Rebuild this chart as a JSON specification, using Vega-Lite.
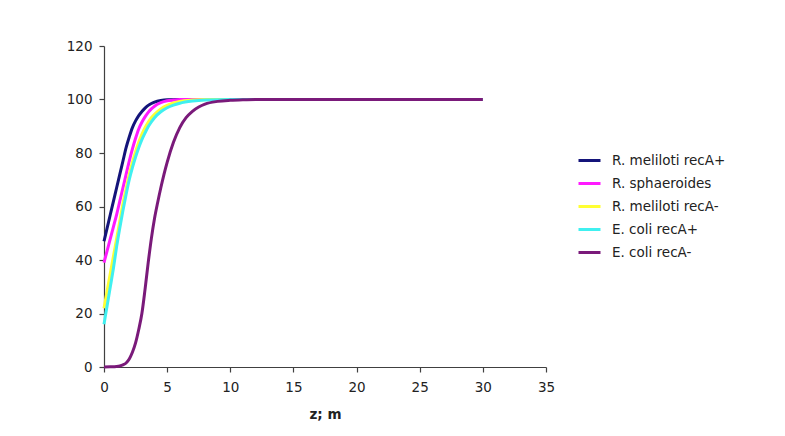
{
  "$schema": "https://vega.github.io/schema/vega-lite/v6.json",
  "width": 442,
  "height": 321,
  "autosize": {"type": "none"},
  "padding": {"left": 104, "top": 46, "right": 239, "bottom": 69},
  "background": "white",
  "config": {
    "font": "DejaVu Sans",
    "view": {"stroke": null},
    "axis": {"grid": false, "domainColor": "#404040", "tickColor": "#404040", "labelColor": "#222", "labelFont": "DejaVu Sans", "labelFontSize": 13.5, "tickSize": 5, "domainWidth": 1.2, "tickWidth": 1.2, "labelFlush": false}
  },
  "data": {"values": [
    {"s":"R. meliloti recA+","z":0,"v":47},{"s":"R. meliloti recA+","z":0.25,"v":52},{"s":"R. meliloti recA+","z":0.5,"v":57},{"s":"R. meliloti recA+","z":0.75,"v":62},{"s":"R. meliloti recA+","z":1,"v":67},{"s":"R. meliloti recA+","z":1.25,"v":72},{"s":"R. meliloti recA+","z":1.5,"v":77},{"s":"R. meliloti recA+","z":1.75,"v":82},{"s":"R. meliloti recA+","z":2,"v":86},{"s":"R. meliloti recA+","z":2.25,"v":89.5},{"s":"R. meliloti recA+","z":2.5,"v":92},{"s":"R. meliloti recA+","z":2.75,"v":94},{"s":"R. meliloti recA+","z":3,"v":95.5},{"s":"R. meliloti recA+","z":3.25,"v":96.8},{"s":"R. meliloti recA+","z":3.5,"v":97.8},{"s":"R. meliloti recA+","z":3.75,"v":98.5},{"s":"R. meliloti recA+","z":4,"v":99},{"s":"R. meliloti recA+","z":4.5,"v":99.6},{"s":"R. meliloti recA+","z":5,"v":99.9},{"s":"R. meliloti recA+","z":6,"v":100},{"s":"R. meliloti recA+","z":10,"v":100},{"s":"R. meliloti recA+","z":15,"v":100},{"s":"R. meliloti recA+","z":20,"v":100},{"s":"R. meliloti recA+","z":25,"v":100},{"s":"R. meliloti recA+","z":30,"v":100},
    {"s":"R. sphaeroides","z":0,"v":39},{"s":"R. sphaeroides","z":0.25,"v":43.5},{"s":"R. sphaeroides","z":0.5,"v":48},{"s":"R. sphaeroides","z":0.75,"v":52.5},{"s":"R. sphaeroides","z":1,"v":57},{"s":"R. sphaeroides","z":1.25,"v":62},{"s":"R. sphaeroides","z":1.5,"v":67},{"s":"R. sphaeroides","z":1.75,"v":72},{"s":"R. sphaeroides","z":2,"v":77},{"s":"R. sphaeroides","z":2.25,"v":81.5},{"s":"R. sphaeroides","z":2.5,"v":85.5},{"s":"R. sphaeroides","z":2.75,"v":89},{"s":"R. sphaeroides","z":3,"v":91.5},{"s":"R. sphaeroides","z":3.25,"v":93.5},{"s":"R. sphaeroides","z":3.5,"v":95.2},{"s":"R. sphaeroides","z":3.75,"v":96.5},{"s":"R. sphaeroides","z":4,"v":97.5},{"s":"R. sphaeroides","z":4.5,"v":98.8},{"s":"R. sphaeroides","z":5,"v":99.5},{"s":"R. sphaeroides","z":5.5,"v":99.8},{"s":"R. sphaeroides","z":6,"v":100},{"s":"R. sphaeroides","z":10,"v":100},{"s":"R. sphaeroides","z":15,"v":100},{"s":"R. sphaeroides","z":20,"v":100},{"s":"R. sphaeroides","z":25,"v":100},{"s":"R. sphaeroides","z":30,"v":100},
    {"s":"R. meliloti recA-","z":0,"v":22},{"s":"R. meliloti recA-","z":0.25,"v":28.5},{"s":"R. meliloti recA-","z":0.5,"v":35},{"s":"R. meliloti recA-","z":0.75,"v":41.5},{"s":"R. meliloti recA-","z":1,"v":48},{"s":"R. meliloti recA-","z":1.25,"v":54.5},{"s":"R. meliloti recA-","z":1.5,"v":61},{"s":"R. meliloti recA-","z":1.75,"v":66.5},{"s":"R. meliloti recA-","z":2,"v":72},{"s":"R. meliloti recA-","z":2.25,"v":76.5},{"s":"R. meliloti recA-","z":2.5,"v":80.5},{"s":"R. meliloti recA-","z":2.75,"v":84},{"s":"R. meliloti recA-","z":3,"v":87},{"s":"R. meliloti recA-","z":3.25,"v":89.5},{"s":"R. meliloti recA-","z":3.5,"v":91.5},{"s":"R. meliloti recA-","z":3.75,"v":93.2},{"s":"R. meliloti recA-","z":4,"v":94.5},{"s":"R. meliloti recA-","z":4.5,"v":96.5},{"s":"R. meliloti recA-","z":5,"v":97.8},{"s":"R. meliloti recA-","z":5.5,"v":98.7},{"s":"R. meliloti recA-","z":6,"v":99.3},{"s":"R. meliloti recA-","z":7,"v":99.8},{"s":"R. meliloti recA-","z":8,"v":100},{"s":"R. meliloti recA-","z":10,"v":100},{"s":"R. meliloti recA-","z":15,"v":100},{"s":"R. meliloti recA-","z":20,"v":100},{"s":"R. meliloti recA-","z":25,"v":100},{"s":"R. meliloti recA-","z":30,"v":100},
    {"s":"E. coli recA+","z":0,"v":16},{"s":"E. coli recA+","z":0.25,"v":23},{"s":"E. coli recA+","z":0.5,"v":30},{"s":"E. coli recA+","z":0.75,"v":37},{"s":"E. coli recA+","z":1,"v":45},{"s":"E. coli recA+","z":1.25,"v":52},{"s":"E. coli recA+","z":1.5,"v":58.5},{"s":"E. coli recA+","z":1.75,"v":64.5},{"s":"E. coli recA+","z":2,"v":70},{"s":"E. coli recA+","z":2.25,"v":74.5},{"s":"E. coli recA+","z":2.5,"v":78.5},{"s":"E. coli recA+","z":2.75,"v":82},{"s":"E. coli recA+","z":3,"v":85},{"s":"E. coli recA+","z":3.25,"v":87.5},{"s":"E. coli recA+","z":3.5,"v":89.8},{"s":"E. coli recA+","z":3.75,"v":91.6},{"s":"E. coli recA+","z":4,"v":93.2},{"s":"E. coli recA+","z":4.5,"v":95.4},{"s":"E. coli recA+","z":5,"v":96.9},{"s":"E. coli recA+","z":5.5,"v":97.9},{"s":"E. coli recA+","z":6,"v":98.6},{"s":"E. coli recA+","z":7,"v":99.4},{"s":"E. coli recA+","z":8,"v":99.8},{"s":"E. coli recA+","z":10,"v":100},{"s":"E. coli recA+","z":15,"v":100},{"s":"E. coli recA+","z":20,"v":100},{"s":"E. coli recA+","z":25,"v":100},{"s":"E. coli recA+","z":30,"v":100},
    {"s":"E. coli recA-","z":0,"v":0},{"s":"E. coli recA-","z":0.5,"v":0.05},{"s":"E. coli recA-","z":1,"v":0.2},{"s":"E. coli recA-","z":1.25,"v":0.4},{"s":"E. coli recA-","z":1.5,"v":0.8},{"s":"E. coli recA-","z":1.75,"v":1.5},{"s":"E. coli recA-","z":2,"v":3},{"s":"E. coli recA-","z":2.25,"v":5.5},{"s":"E. coli recA-","z":2.5,"v":9},{"s":"E. coli recA-","z":2.75,"v":14},{"s":"E. coli recA-","z":3,"v":20},{"s":"E. coli recA-","z":3.25,"v":29},{"s":"E. coli recA-","z":3.5,"v":39},{"s":"E. coli recA-","z":3.75,"v":48},{"s":"E. coli recA-","z":4,"v":55.5},{"s":"E. coli recA-","z":4.25,"v":61.5},{"s":"E. coli recA-","z":4.5,"v":67},{"s":"E. coli recA-","z":4.75,"v":72},{"s":"E. coli recA-","z":5,"v":76.5},{"s":"E. coli recA-","z":5.5,"v":84},{"s":"E. coli recA-","z":6,"v":89.5},{"s":"E. coli recA-","z":6.5,"v":93.2},{"s":"E. coli recA-","z":7,"v":95.6},{"s":"E. coli recA-","z":7.5,"v":97.2},{"s":"E. coli recA-","z":8,"v":98.3},{"s":"E. coli recA-","z":9,"v":99.3},{"s":"E. coli recA-","z":10,"v":99.7},{"s":"E. coli recA-","z":11,"v":99.9},{"s":"E. coli recA-","z":12,"v":100},{"s":"E. coli recA-","z":15,"v":100},{"s":"E. coli recA-","z":20,"v":100},{"s":"E. coli recA-","z":25,"v":100},{"s":"E. coli recA-","z":30,"v":100}
  ]},
  "mark": {"type": "line", "strokeWidth": 3, "interpolate": "monotone"},
  "encoding": {
    "x": {"field": "z", "type": "quantitative", "scale": {"domain": [0, 35], "nice": false}, "axis": {"values": [0,5,10,15,20,25,30,35], "title": "z; m", "titleFontSize": 13.5, "titleFontWeight": "bold", "titleColor": "#222", "titlePadding": 14, "labelPadding": 8}},
    "y": {"field": "v", "type": "quantitative", "scale": {"domain": [0, 120], "nice": false}, "axis": {"values": [0,20,40,60,80,100,120], "title": null, "labelPadding": 7}},
    "color": {"field": "s", "type": "nominal",
      "scale": {"domain": ["R. meliloti recA+","R. sphaeroides","R. meliloti recA-","E. coli recA+","E. coli recA-"], "range": ["#14147a","#ff1aff","#ffff33","#40f0f0","#7a1a7a"]},
      "legend": {"title": null, "orient": "none", "legendX": 473, "legendY": 102, "symbolType": "stroke", "symbolSize": 484, "symbolStrokeWidth": 3, "labelFontSize": 13.5, "labelColor": "#222", "labelOffset": 10, "rowPadding": 4}
    },
    "order": {"field": "z", "type": "quantitative"}
  }
}
